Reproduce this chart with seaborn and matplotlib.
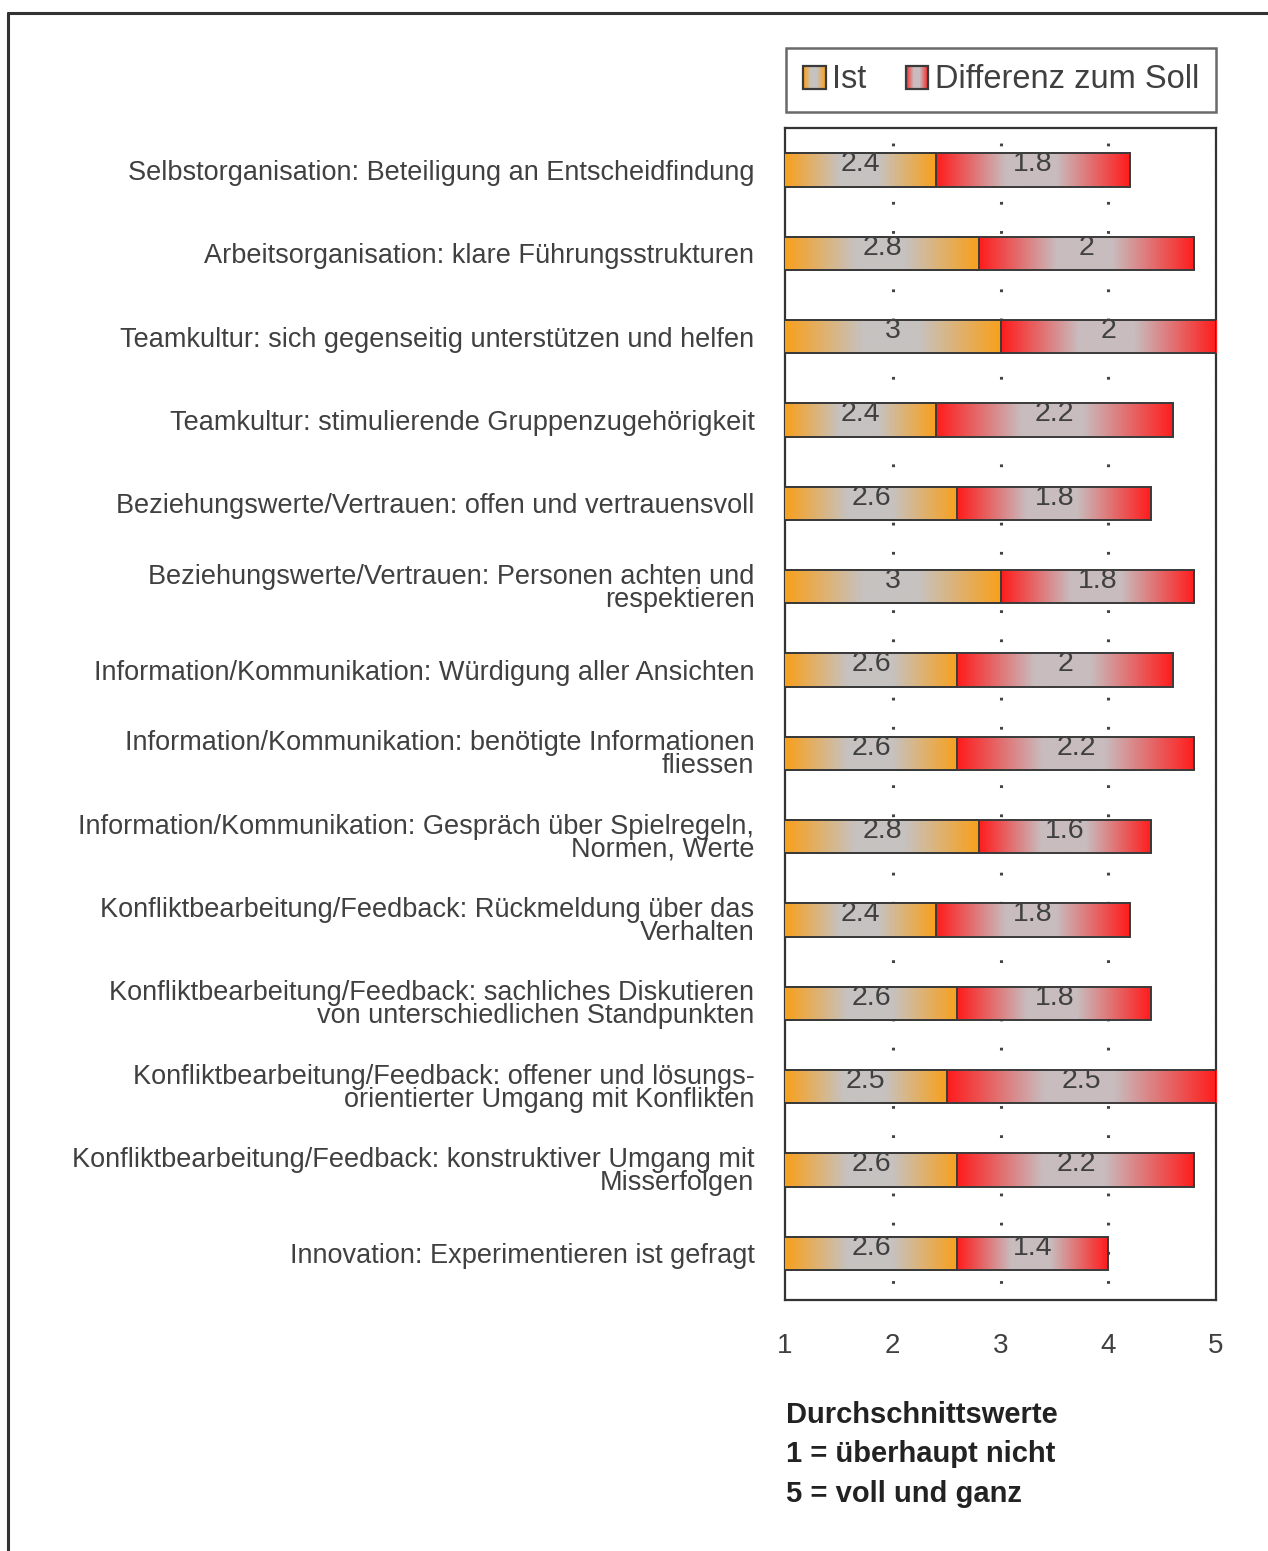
import numpy as np
import pandas as pd
import matplotlib
matplotlib.use("Agg")
import matplotlib.pyplot as plt
import seaborn as sns
from matplotlib.colors import to_rgb
from matplotlib.patches import Patch, Rectangle
from matplotlib.lines import Line2D
from matplotlib.legend_handler import HandlerBase

# --- data ---------------------------------------------------------------
categories = [
    "Selbstorganisation: Beteiligung an Entscheidfindung",
    "Arbeitsorganisation: klare Führungsstrukturen",
    "Teamkultur: sich gegenseitig unterstützen und helfen",
    "Teamkultur: stimulierende Gruppenzugehörigkeit",
    "Beziehungswerte/Vertrauen: offen und vertrauensvoll",
    "Beziehungswerte/Vertrauen: Personen achten und\nrespektieren",
    "Information/Kommunikation: Würdigung aller Ansichten",
    "Information/Kommunikation: benötigte Informationen\nfliessen",
    "Information/Kommunikation: Gespräch über Spielregeln,\nNormen, Werte",
    "Konfliktbearbeitung/Feedback: Rückmeldung über das\nVerhalten",
    "Konfliktbearbeitung/Feedback: sachliches Diskutieren\nvon unterschiedlichen Standpunkten",
    "Konfliktbearbeitung/Feedback: offener und lösungs-\norientierter Umgang mit Konflikten",
    "Konfliktbearbeitung/Feedback: konstruktiver Umgang mit\nMisserfolgen",
    "Innovation: Experimentieren ist gefragt",
]
ist = [2.4, 2.8, 3.0, 2.4, 2.6, 3.0, 2.6, 2.6, 2.8, 2.4, 2.6, 2.5, 2.6, 2.6]
diff_soll = [1.8, 2.0, 2.0, 2.2, 1.8, 1.8, 2.0, 2.2, 1.6, 1.8, 1.8, 2.5, 2.2, 1.4]
series_labels = ["Ist", "Differenz zum Soll"]
x_ticks = [1, 2, 3, 4, 5]
note_lines = ["Durchschnittswerte", "1 = überhaupt nicht", "5 = voll und ganz"]

# --- style ----------------------------------------------------------------
sns.set_theme(style="white")
plt.rcParams["font.family"] = ["Liberation Sans", "DejaVu Sans"]
plt.rcParams["lines.scale_dashes"] = False

ORANGE = "#F8A01C"
RED = "#FF1C1C"
GRAY_O = "#C6C2C0"
GRAY_R = "#C8BCBE"
EDGE = "#3a3a3a"
TEXT = "#404040"


def gradient_colors(end_color, mid_color, n=256):
    stops = [0.0, 0.36, 0.62, 1.0]
    c_end = np.array(to_rgb(end_color))
    c_mid = np.array(to_rgb(mid_color))
    cols = [c_end, c_mid, c_mid, c_end]
    t = np.linspace(0, 1, n)
    out = np.zeros((n, 3))
    for ch in range(3):
        out[:, ch] = np.interp(t, stops, [c[ch] for c in cols])
    return out


class GradientHandler(HandlerBase):
    def __init__(self, end_color, mid_color):
        super().__init__()
        self.cols = gradient_colors(end_color, mid_color, 24)

    def create_artists(self, legend, orig_handle, xdescent, ydescent,
                       width, height, fontsize, trans):
        n = len(self.cols)
        arts = []
        for i, c in enumerate(self.cols):
            arts.append(Rectangle((-xdescent + i * width / n, -ydescent),
                                  width / n + 0.3, height, facecolor=c,
                                  edgecolor="none", transform=trans))
        arts.append(Rectangle((-xdescent, -ydescent), width, height,
                              facecolor="none", edgecolor=EDGE, lw=1.6,
                              transform=trans))
        return arts


df = pd.DataFrame({"Kategorie": categories, "Ist": ist,
                   "Soll": np.array(ist) + np.array(diff_soll)})

fig = plt.figure(figsize=(12.68, 15.51), dpi=100)
ax = fig.add_axes([785 / 1268, 1 - 1300 / 1551, 431 / 1268, 1172 / 1551])

# total (Soll) bars first, Ist bars on top
sns.barplot(data=df, x="Soll", y="Kategorie", orient="h", color=RED,
            width=0.4, errorbar=None, ax=ax, zorder=3)
sns.barplot(data=df, x="Ist", y="Kategorie", orient="h", color=ORANGE,
            width=0.4, errorbar=None, ax=ax, zorder=3)

grad_o = gradient_colors(ORANGE, GRAY_O)[None, :, :]
grad_r = gradient_colors(RED, GRAY_R)[None, :, :]

x_min, x_max = 1, 5
for i, (p_tot, p_ist) in enumerate(zip(ax.containers[0].patches,
                                         ax.containers[1].patches)):
    y0 = p_ist.get_y()
    h = p_ist.get_height()
    v_ist = p_ist.get_width()
    v_tot = p_tot.get_width()
    for p in (p_tot, p_ist):
        p.set_facecolor("none")
        p.set_edgecolor(EDGE)
        p.set_linewidth(1.4)
        p.set_zorder(4)
    im_o = ax.imshow(grad_o, extent=[x_min, v_ist, y0 + h, y0],
                     aspect="auto", interpolation="bilinear", zorder=3)
    im_o.set_clip_path(p_ist)
    im_r = ax.imshow(grad_r, extent=[v_ist, v_tot, y0 + h, y0],
                     aspect="auto", interpolation="bilinear", zorder=3)
    im_r.set_clip_path(p_tot)
    yc = y0 + h / 2 - 0.07
    ax.text((x_min + v_ist) / 2, yc, f"{ist[i]:g}", ha="center", va="center",
            fontsize=20.5, color=TEXT, zorder=5)
    ax.text((v_ist + v_tot) / 2, yc, f"{diff_soll[i]:g}", ha="center",
            va="center", fontsize=20.5, color=TEXT, zorder=5)

ax.set_xlim(x_min, x_max)
ax.set_ylim(13.56, -0.505)
ax.set_xticks(x_ticks)
ax.set_xticklabels([str(t) for t in x_ticks])
ax.set_xlabel("")
ax.set_ylabel("")

ax.set_axisbelow(True)
ax.grid(axis="x", color="#444444", linewidth=2.2, linestyle=(9, (2, 19)))
ax.grid(axis="y", visible=False)
ax.xaxis.get_gridlines()[0].set_visible(False)

for s in ax.spines.values():
    s.set_visible(True)
    s.set_color("#333333")
    s.set_linewidth(1.6)

ax.tick_params(axis="x", direction="inout", length=13, width=1.4,
               colors="#333333", pad=17, labelsize=20, labelcolor=TEXT)
ax.tick_params(axis="y", length=0, pad=22, labelsize=19.5, labelcolor=TEXT)
for lab in ax.get_yticklabels():
    lab.set_linespacing(0.85)
    lab.set_multialignment("right")

# legend with gradient swatches
h_ist = Patch(label=series_labels[0])
h_diff = Patch(label=series_labels[1])
leg = fig.legend(handles=[h_ist, h_diff], labels=series_labels,
                 handler_map={h_ist: GradientHandler(ORANGE, GRAY_O),
                              h_diff: GradientHandler(RED, GRAY_R)},
                 loc="center", bbox_to_anchor=(1001 / 1268, 1 - 80 / 1551),
                 ncol=2, fontsize=23.5, frameon=True, fancybox=False,
                 handlelength=0.7, handleheight=0.7, handletextpad=0.2,
                 columnspacing=1.2, borderpad=0.5, borderaxespad=0)
leg.get_frame().set_edgecolor("#444444")
leg.get_frame().set_linewidth(1.8)
for t in leg.get_texts():
    t.set_color(TEXT)

# explanatory note below the axis
for k, line in enumerate(note_lines):
    fig.text(786 / 1268, 1 - (1423 + 39.5 * k) / 1551, line,
             fontsize=21, fontweight="bold", color="#222222",
             ha="left", va="baseline")

# outer frame (top and left edges)
fig.add_artist(Line2D([8 / 1268, 1.0], [1 - 13 / 1551, 1 - 13 / 1551],
                      transform=fig.transFigure, color="#333333", lw=2.2))
fig.add_artist(Line2D([8 / 1268, 8 / 1268], [0.0, 1 - 13 / 1551],
                      transform=fig.transFigure, color="#333333", lw=2.2))

fig.savefig("out.png", dpi=100, facecolor="white")
